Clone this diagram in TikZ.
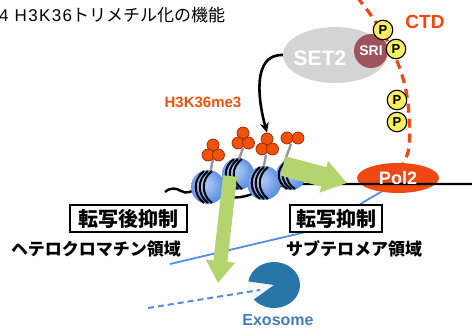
\documentclass[tikz,border=0pt]{standalone}
\usepackage{fontspec}
\setmainfont{Noto Sans CJK JP}
\newfontfamily\latin{Liberation Sans}
\newfontfamily\latinwide{Liberation Sans}[LetterSpace=8]
\usetikzlibrary{arrows.meta,shapes.geometric}

\definecolor{polred}{RGB}{240,72,18}
\definecolor{setgray}{RGB}{212,212,212}
\definecolor{srirose}{RGB}{158,82,92}
\definecolor{pyellow}{RGB}{246,240,96}
\definecolor{leaf}{RGB}{180,212,112}
\definecolor{linkblue}{RGB}{84,142,228}
\definecolor{exofill}{RGB}{40,118,168}
\definecolor{exotext}{RGB}{70,125,185}
\definecolor{nucA}{RGB}{178,206,248}
\definecolor{nucB}{RGB}{96,144,226}
\definecolor{tailgray}{RGB}{150,150,150}
\definecolor{meorange}{RGB}{240,82,12}
\definecolor{meedge}{RGB}{150,40,0}

\pgfdeclareradialshading{nucshade}{\pgfpoint{-6bp}{6bp}}{%
  color(0bp)=(nucA); color(12bp)=(nucA!60!nucB); color(25bp)=(nucB); color(50bp)=(nucB)}

\tikzset{
  nucleosome/.pic={
    \shade[shading=nucshade] (0,0) circle[radius=#1];
    \foreach \o in {0,4,8}{
      \draw[line width=2pt] (-4+\o,-0.94*#1) .. controls (-15+\o,-0.45*#1) and (-15+\o,0.45*#1) .. (-4+\o,0.94*#1);
    }
  },
  methyl/.style={circle,fill=meorange,draw=meedge,line width=0.7pt,minimum size=12pt,inner sep=0},
  tailline/.style={tailgray,line width=2.4pt},
  pbead/.style={circle,draw=black,line width=1.1pt,fill=pyellow,minimum size=19.5pt,inner sep=0,
    font=\latin\bfseries\fontsize{13}{13}\selectfont},
  dna/.style={line width=2.4pt,black},
  fatarrow/.style={draw=leaf,line width=20pt,-{Triangle[length=24pt,width=31pt]}},
  droparrow/.style={draw=leaf,line width=14pt,-{Triangle[length=22pt,width=28pt]}},
  boxlabel/.style={draw=black,line width=1.5pt,fill=white,inner sep=0,minimum height=27pt,
    font=\bfseries\fontsize{20}{20}\selectfont},
  region/.style={inner sep=0,font=\bfseries\fontsize{17}{17}\selectfont},
}

\begin{document}
\begin{tikzpicture}[x=1pt,y=-1pt]
\useasboundingbox[fill=white] (0,0) rectangle (472,335);

% title
\node[anchor=west,inner sep=0,font=\fontsize{17}{17}\selectfont] (title) at (-1,15)
  {{\latinwide 4\hspace{6pt}H3K36}トリメチル化の機能};

% link from the heterochromatin side to Pol2
\coordinate (bstart) at (170,264);
\node[ellipse,fill=polred,minimum width=82pt,minimum height=30pt,inner sep=0] (pol2) at (398,178) {};
\draw[linkblue,line width=1.8pt] (bstart) -- (310,231) .. controls (335,225) and (347,210) .. (pol2.220);

% DNA
\coordinate (dnaL) at (165,192);
\coordinate (dnaR) at (472,184);
\draw[dna] (dnaL) .. controls (171,187) and (176,188) .. (181,191)
  .. controls (186,194) and (191,192) .. (196,189)
  .. controls (220,200) and (240,199) .. (252,194)
  .. controls (265,189) and (280,185) .. (300,184) -- (dnaR);

% CTD tail with phosphates
\coordinate (ctdtop) at (357,-3);
\draw[polred,line width=3.2pt,dash pattern=on 9pt off 6pt]
  (ctdtop) .. controls (392,40) and (407,75) .. (409,115)
  .. controls (410,140) and (411,152) .. (pol2.72);

% SET2 with its SRI domain
\node[ellipse,fill=setgray,minimum width=104pt,minimum height=56pt,inner sep=0] (set2) at (335,55) {};
\node[text=white,inner sep=0,font=\latin\bfseries\fontsize{21}{21}\selectfont] (set2txt) at (320,58) {SET2};
\node[circle,fill=srirose,minimum size=34pt,inner sep=0,text=white,
  font=\latin\bfseries\fontsize{14}{14}\selectfont] (sri) at (371,51) {SRI};
\node[pbead] (p1) at (383,30) {P};
\node[pbead] (p2) at (396,49) {P};
\node[pbead] (p3) at (397,100) {P};
\node[pbead] (p4) at (397,122) {P};
\node[text=polred,inner sep=0,font=\latin\bfseries\fontsize{19}{19}\selectfont] (ctd) at (425,22) {CTD};

% histone tails
\draw[tailline] (213,159) -- (210,174);
\draw[tailline] (243,148) -- (238,162);
\draw[tailline] (266,155) -- (263,170);
\draw[tailline] (291,144) -- (284,163);

% nucleosomes
\pic at (238,174) {nucleosome=16};
\pic at (208,187) {nucleosome=17};
\pic at (264,183) {nucleosome=17};
\pic at (291,175) {nucleosome=15};

% trimethyl marks
\node[methyl] (m1a) at (213,145) {};
\node[methyl] (m1b) at (208,155) {};
\node[methyl] (m1c) at (218.5,155) {};
\node[methyl] (m2a) at (243,133) {};
\node[methyl] (m2b) at (238,143) {};
\node[methyl] (m2c) at (248.5,143) {};
\node[methyl] (m3a) at (267,139) {};
\node[methyl] (m3b) at (262,149) {};
\node[methyl] (m3c) at (272.5,149) {};
\node[methyl] (m4a) at (287,138) {};
\node[methyl] (m4b) at (298,138) {};

\node[text=meorange,inner sep=0,font=\latin\bfseries\fontsize{15}{15}\selectfont] (me3) at (203,102) {H3K36me3};

% SET2 deposits the mark
\draw[line width=2.6pt,-{Stealth[length=10pt,width=9pt]}]
  (set2.west) .. controls (252,54) and (258,100) .. (m3a.north);

% green arrows
\coordinate (g1s) at (283,166);
\coordinate (g1t) at (347,183);
\draw[fatarrow] (g1s) -- (g1t);
\coordinate (g2s) at (230,176);
\coordinate (g2t) at (218,283);
\draw[droparrow] (g2s) -- (g2t);

% Pol2 label
\node[text=white,inner sep=0,font=\latin\bfseries\fontsize{18}{18}\selectfont] (pol2txt) at (pol2) {Pol2};

% repression labels
\node[boxlabel,minimum width=117pt] (ptgs) at (128.5,218.5) {転写後抑制};
\node[boxlabel,minimum width=92pt] (tgs) at (336,218.5) {転写抑制};
\node[region] (hetero) at (96,249) {ヘテロクロマチン領域};
\node[region] (subtel) at (354,249) {サブテロメア領域};

% exosome
\coordinate (exo) at (274,285);
\fill[gray!7] (exo) -- ++(141:26 and 23) arc[start angle=141,end angle=189,x radius=26,y radius=23] -- cycle;
\fill[exofill] (exo) -- ++(189:26 and 23) arc[start angle=189,end angle=501,x radius=26,y radius=23] -- cycle;
\coordinate (dashstart) at (148,308);
\coordinate (mouth) at (260,290);
\draw[linkblue,line width=2pt,dash pattern=on 6pt off 4pt] (dashstart) -- (mouth);
\node[text=exotext,inner sep=0,font=\latin\bfseries\fontsize{16}{16}\selectfont] (exolbl) at (278,320) {Exosome};
\end{tikzpicture}
\end{document}
